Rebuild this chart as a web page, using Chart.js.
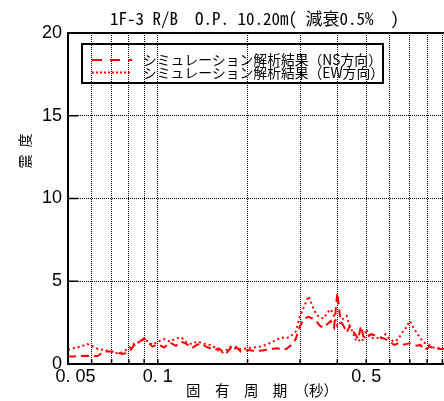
<!DOCTYPE html>
<html><head><meta charset="utf-8">
<script src="https://cdn.jsdelivr.net/npm/chart.js@4.4.1/dist/chart.umd.min.js"></script>
<style>html,body{margin:0;padding:0;overflow:hidden;background:#fff;width:444px;height:401px}</style>
</head><body>
<canvas id="c" width="470" height="401" style="display:block"></canvas>
<script>
const titleText = '1F-3 R/B　O.P. 10.20m( 減衰0.5%  )';
const xTitle = '固　有　周　期　（秒）';
const yTitle = '震\u2002度';
const seriesLabels = ['シミュレーション解析結果（NS方向）', 'シミュレーション解析結果（EW方向）'];

const periods = [0.05,0.052,0.055,0.058,0.06,0.063,0.066,0.07,0.073,0.076,0.08,0.083,0.086,0.09,0.093,0.096,
  0.1,0.105,0.11,0.115,0.12,0.125,0.13,0.135,0.14,0.145,0.15,0.155,0.16,0.165,0.17,0.175,0.18,0.19,
  0.2,0.21,0.22,0.23,0.24,0.25,0.26,0.27,0.28,0.29,0.3,0.31,0.32,0.33,0.34,0.35,0.36,0.37,0.38,0.39,
  0.4,0.41,0.42,0.43,0.44,0.45,0.46,0.47,0.48,0.49,0.5,0.52,0.54,0.56,0.58,0.6,0.62,0.64,0.66,0.68,
  0.7,0.72,0.74,0.76,0.78,0.8,0.82,0.84,0.86,0.88,0.9,0.95,1.0];
const nsValues = [0.45,0.45,0.48,0.5,0.45,0.5,0.75,0.75,0.7,0.6,0.7,1.1,1.3,1.55,1.3,1.05,
  1.2,1.0,1.3,1.1,1.35,1.2,0.95,1.15,1.25,1.05,0.95,0.85,0.95,0.75,0.65,0.95,1.15,0.75,
  0.85,0.8,0.8,0.85,0.9,0.95,0.9,0.9,1.15,1.5,2.3,2.75,2.85,2.75,2.6,2.3,2.2,2.4,2.6,2.2,
  4.3,2.6,2.3,1.9,2.3,2.0,1.8,1.5,2.3,1.6,1.6,1.8,1.7,1.6,1.5,1.35,1.15,1.25,1.15,1.2,
  1.25,1.2,1.1,1.15,0.85,0.95,1.05,0.95,0.95,0.9,0.9,0.85,0.85];
const ewValues = [0.85,0.95,1.05,1.2,1.1,0.9,0.85,0.75,0.65,0.7,0.95,1.2,1.3,1.5,1.35,1.15,
  1.35,1.5,1.35,1.55,1.6,1.3,1.2,1.35,1.3,1.2,1.15,1.0,0.8,0.7,0.85,1.05,0.95,0.9,
  0.95,1.0,1.05,1.15,1.3,1.45,1.6,1.55,1.7,1.95,2.9,3.5,4.1,3.5,3.0,2.8,2.75,3.1,3.3,2.9,
  2.3,2.5,2.8,2.9,2.3,1.95,1.5,1.35,1.55,1.4,2.1,1.55,1.6,1.5,1.8,1.5,1.35,1.5,1.9,2.2,
  2.6,2.2,1.85,1.55,1.3,1.2,1.1,1.0,1.0,0.95,0.9,0.9,0.85];

const xTickValues = [0.05,0.06,0.07,0.08,0.09,0.1,0.2,0.3,0.4,0.5,0.6,0.7,0.8,0.9,1.0];
const xTickLabels = ['   0. 05','','','','','0. 1','','','','0. 5','','','','',''];
const yTickValues = [0,5,10,15,20];

const RED = '#ff0000';
const CJK = '"Noto Sans CJK JP", sans-serif';

const decor = {
  id: 'decor',
  afterDraw(chart) {
    const {ctx, chartArea: a, scales: {x, y}} = chart;
    ctx.save();
    ctx.setLineDash([]);
    ctx.strokeStyle = '#000';
    ctx.lineWidth = 2;
    ctx.beginPath();
    ctx.moveTo(a.right, a.top); ctx.lineTo(a.left, a.top);
    ctx.lineTo(a.left, a.bottom); ctx.lineTo(a.right, a.bottom);
    ctx.stroke();
    ctx.lineWidth = 1.5;
    yTickValues.forEach(v => {
      if (v === 0) return;
      const py = y.getPixelForValue(v);
      ctx.beginPath(); ctx.moveTo(a.left, py); ctx.lineTo(a.left + 10, py); ctx.stroke();
    });
    xTickValues.forEach(v => {
      const px = x.getPixelForValue(v);
      ctx.beginPath(); ctx.moveTo(px, a.bottom); ctx.lineTo(px, a.bottom - 5); ctx.stroke();
    });
    // legend
    const lx = a.left + 14, ly = a.top + 11, lw = 301, lh = 39;
    ctx.lineWidth = 2;
    ctx.strokeRect(lx, ly, lw, lh);
    const ds = chart.data.datasets;
    const rows = [ly + 16, ly + 28.5];
    const dashes = [[10, 8], [2, 2]];
    ds.forEach((d, i) => {
      ctx.strokeStyle = d.borderColor;
      ctx.lineWidth = 2;
      ctx.setLineDash(dashes[i]);
      ctx.beginPath(); ctx.moveTo(lx + 10, rows[i]); ctx.lineTo(lx + 50, rows[i]); ctx.stroke();
      ctx.setLineDash([]);
      ctx.fillStyle = '#000';
      ctx.font = '13.8px ' + CJK;
      ctx.textAlign = 'left'; ctx.textBaseline = 'middle';
      ctx.fillText(d.label, lx + 61, rows[i]);
    });
    // title
    ctx.fillStyle = '#000';
    ctx.font = '17px "Noto Sans Mono CJK JP", "Noto Sans CJK JP", monospace';
    ctx.textAlign = 'left'; ctx.textBaseline = 'middle';
    ctx.fillText(titleText, 110, 19);
    // y title
    ctx.save();
    ctx.translate(25, 151);
    ctx.rotate(-Math.PI / 2);
    ctx.font = '14px ' + CJK;
    ctx.textAlign = 'center'; ctx.textBaseline = 'middle';
    ctx.fillText(yTitle, 0, 0);
    ctx.restore();
    ctx.restore();
  }
};

new Chart(document.getElementById('c').getContext('2d'), {
  type: 'line',
  data: {
    datasets: [
      {label: seriesLabels[0], data: periods.map((p, i) => ({x: p, y: nsValues[i]})),
       borderColor: RED, borderWidth: 2, borderDash: [8, 5], pointRadius: 0, fill: false, tension: 0},
      {label: seriesLabels[1], data: periods.map((p, i) => ({x: p, y: ewValues[i]})),
       borderColor: RED, borderWidth: 2, borderDash: [2, 3], pointRadius: 0, fill: false, tension: 0}
    ]
  },
  options: {
    responsive: false, animation: false, devicePixelRatio: 1,
    layout: {padding: {top: 33, left: 0, right: 14, bottom: 0}},
    plugins: {legend: {display: false}, title: {display: false}, tooltip: {enabled: false}},
    scales: {
      x: {
        type: 'logarithmic', min: 0.05, max: 1.0,
        afterBuildTicks: s => { s.ticks = xTickValues.map(v => ({value: v})); },
        afterFit: s => { s.height = 37; },
        ticks: {autoSkip: false, maxRotation: 0, minRotation: 0, padding: 2, color: '#000',
          font: {family: '"Liberation Sans", Arial, sans-serif', size: 18},
          callback: (v, i) => xTickLabels[i]},
        grid: {color: '#000', lineWidth: 1, drawTicks: false},
        border: {display: false, dash: [1, 1]},
        title: {display: true, text: xTitle, color: '#000', font: {family: CJK, size: 14.5}, padding: {top: 0, bottom: 2}}
      },
      y: {
        min: 0, max: 20,
        afterBuildTicks: s => { s.ticks = yTickValues.map(v => ({value: v})); },
        afterFit: s => { s.width = 68; },
        ticks: {padding: 6, color: '#000', font: {family: '"Liberation Sans", Arial, sans-serif', size: 18}},
        grid: {color: '#000', lineWidth: 1, drawTicks: false},
        border: {display: false, dash: [1, 1]}
      }
    }
  },
  plugins: [decor]
});
</script>
</body></html>
